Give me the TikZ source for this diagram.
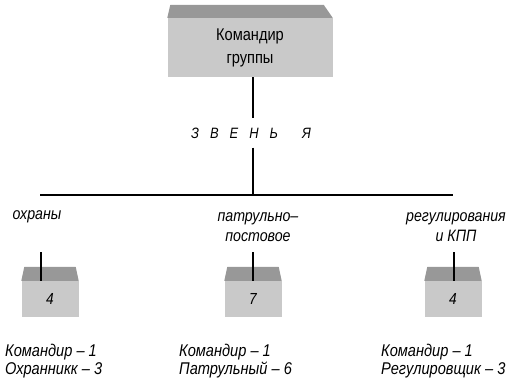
\documentclass[tikz,border=0pt]{standalone}
\usepackage{fontspec}
\setmainfont{Liberation Sans}[FakeStretch=0.86]
\usetikzlibrary{positioning}
\definecolor{frontgray}{RGB}{201,201,201}
\definecolor{topgray}{RGB}{152,152,152}

\begin{document}
\begin{tikzpicture}[
  x=1pt, y=-1pt,
  line/.style={draw, line width=1.2pt},
  drop/.style={draw, line width=1.6pt},
  front/.style={fill=frontgray, inner sep=0pt},
  label/.style={font=\itshape\fontsize{16.5}{20}\selectfont, align=center, inner sep=0pt},
  sostav/.style={font=\itshape\fontsize{17}{18}\selectfont, align=left, anchor=west, inner sep=0pt}
]
\useasboundingbox (0,0) rectangle (506,378);
\tikzstyle{zveno}=[front, minimum width=57pt, minimum height=36pt, font=\itshape\fontsize{16}{16}\selectfont]

% Commander
\node [front, minimum width=165pt, minimum height=59pt, align=center,
  font=\fontsize{17}{23}\selectfont] (komgr) at (250,47.5) {Командир\\группы};
\fill[topgray] (komgr.north west) -- ([xshift=3pt,yshift=13pt]komgr.north west)
  -- ([xshift=-9pt,yshift=13pt]komgr.north east) -- (komgr.north east) -- cycle;

\node [font=\itshape\fontsize{15}{15}\selectfont, inner xsep=0pt, inner ysep=9pt] (zvenya) at (251,133)
  {З\hspace{11pt}В\hspace{11pt}Е\hspace{11pt}Н\hspace{11pt}Ь\hspace{24pt}Я};

\coordinate (stem) at (253,195);
\coordinate (busL) at (40,195);
\coordinate (busR) at (453,195);
\draw[line] (komgr.south -| stem) -- (stem |- zvenya.north);
\draw[line] (zvenya.south -| stem) -- (stem);
\draw[line] (busL) -- (busR);

% Groups
\node [label] (ohrana) at (37,217) {охраны};
\node [label] (patrul) at (258,227) {патрульно–\\постовое};
\node [label] (regul) at (456,227) {регулирования\\и КПП};

\node [zveno] (b1) at (50,299) {4};
\node [zveno] (b2) at (253,299) {7};
\node [zveno] (b3) at (453,299) {4};
\foreach \b in {b1,b2,b3}
  \fill[topgray] (\b.north west) -- ([xshift=3pt,yshift=14pt]\b.north west)
    -- ([xshift=-3pt,yshift=14pt]\b.north east) -- (\b.north east) -- cycle;

\coordinate (d1) at (41,252);
\coordinate (d2) at (253,252);
\coordinate (d3) at (454,252);
\draw[drop] (d1) -- (d1 |- b1.north);
\draw[drop] (d2) -- (d2 |- b2.north);
\draw[drop] (d3) -- (d3 |- b3.north);

% Staff
\node [sostav] (s1) at (5,361) {Командир – 1\\Охранникк – 3};
\node [sostav] (s2) at (179,361) {Командир – 1\\Патрульный – 6};
\node [sostav] (s3) at (381,361) {Командир – 1\\Регулировщик – 3};

\end{tikzpicture}
\end{document}
